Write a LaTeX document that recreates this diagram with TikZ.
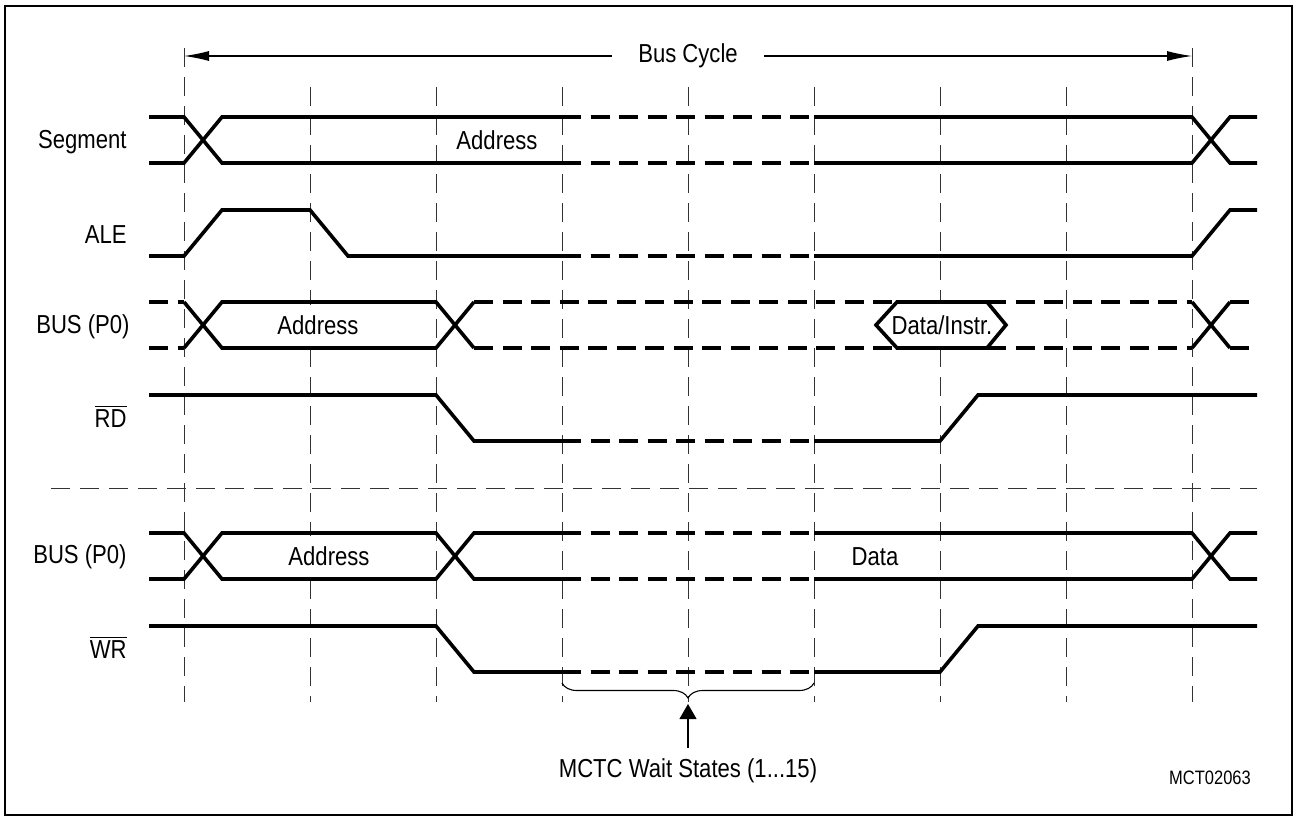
\documentclass[tikz,border=0pt]{standalone}
\usepackage{fontspec}
\setmainfont{Liberation Sans}[FakeStretch=0.85]
\usepackage{tikz}
\usetikzlibrary{arrows.meta,decorations.pathreplacing}

\begin{document}
\begin{tikzpicture}[
  x=0.5pt, y=-0.5pt,
  font=\fontsize{13}{15}\selectfont,
  sig/.style={line width=1.8pt, line join=miter},
  waitsig/.style={sig, dash pattern=on 9.5pt off 4.75pt},
  guide/.style={line width=0.5pt, black!80, dash pattern=on 9.5pt off 5pt},
  lbl/.style={anchor=base east, inner sep=0pt},
  txt/.style={anchor=base, inner sep=0pt},
  tagbox/.style={fill=white, inner xsep=1pt, inner ysep=0pt, text height=9pt, text depth=0pt, minimum height=20.5pt},
  thin/.style={line width=0.55pt}
]
\useasboundingbox (0,0) rectangle (1295,818);
\draw[line width=1pt] (5,6) rectangle (1292,815);

% time grid
\foreach \x in {310,436,...,1066} \draw[guide] (\x,87) -- (\x,702);
\foreach \x in {184,1192} \draw[guide] (\x,48) -- (\x,702);
\draw[guide] (51,488) -- (1257,488);

% bus cycle
\coordinate (cycstart) at (184,56);
\coordinate (cycend) at (1192,56);
\node[inner xsep=13pt] (cyc) at (688,56) {Bus Cycle};
\draw[thin, -{Latex[length=12.5pt,width=5pt]}] (cyc) -- (cycstart);
\draw[thin, -{Latex[length=12.5pt,width=5pt]}] (cyc) -- (cycend);

% signal names
\node[lbl] (seglbl) at (127,148.5) {Segment};
\node[lbl] (alelbl) at (127,243.5) {ALE};
\node[lbl] (buslbl) at (130,333) {BUS (P0)};
\node[lbl] (rdlbl) at (127,427) {$\overline{\mbox{RD}}$};
\node[lbl] (buslblb) at (127,563.5) {BUS (P0)};
\node[lbl] (wrlbl) at (127,658.5) {$\overline{\mbox{WR}}$};

% Segment
\draw[sig] (149,117) -- (184,117) -- (222,163) -- (562,163);
\draw[sig] (149,163) -- (184,163) -- (222,117) -- (562,117);
\draw[waitsig] (562,117) -- (814,117) (562,163) -- (814,163);
\draw[sig] (814,117) -- (1192,117) -- (1230,163) -- (1257,163);
\draw[sig] (814,163) -- (1192,163) -- (1230,117) -- (1257,117);
\node[txt] (segaddr) at (497,150) {Address};

% ALE
\draw[sig] (149,256) -- (184,256) -- (222,210) -- (310,210) -- (348,256) -- (562,256);
\draw[waitsig] (562,256) -- (814,256);
\draw[sig] (814,256) -- (1192,256) -- (1230,210) -- (1257,210);

% BUS (P0), read
\draw[waitsig] (149,302) -- (184,302) (149,348) -- (184,348);
\draw[sig] (184,302) -- (222,348) -- (436,348) -- (474,302);
\draw[sig] (184,348) -- (222,302) -- (436,302) -- (474,348);
\draw[waitsig] (474,302) -- (1192,302) (474,348) -- (1192,348);
\filldraw[sig, fill=white] (876,325) -- (897,302) -- (987,302) -- (1006,325) -- (987,348) -- (897,348) -- cycle;
\draw[sig] (1192,302) -- (1230,348) (1192,348) -- (1230,302);
\draw[waitsig] (1230,302) -- (1257,302) (1230,348) -- (1257,348);
\node[tagbox] (busaddr) at (318,325) {Address};
\node[txt] (datains) at (942,334) {Data/Instr.};

% RD
\draw[sig] (149,395) -- (436,395) -- (474,441) -- (562,441);
\draw[waitsig] (562,441) -- (814,441);
\draw[sig] (814,441) -- (940,441) -- (978,395) -- (1257,395);

% BUS (P0), write
\draw[sig] (149,533) -- (184,533) -- (222,579) -- (436,579) -- (474,533) -- (562,533);
\draw[sig] (149,579) -- (184,579) -- (222,533) -- (436,533) -- (474,579) -- (562,579);
\draw[waitsig] (562,533) -- (814,533) (562,579) -- (814,579);
\draw[sig] (814,533) -- (1192,533) -- (1230,579) -- (1257,579);
\draw[sig] (814,579) -- (1192,579) -- (1230,533) -- (1257,533);
\node[tagbox] (busaddrb) at (329,556) {Address};
\node[txt] (busdata) at (875,565) {Data};

% WR
\draw[sig] (149,626) -- (436,626) -- (474,672) -- (562,672);
\draw[waitsig] (562,672) -- (814,672);
\draw[sig] (814,672) -- (940,672) -- (978,626) -- (1257,626);

% wait states
\draw[thin, decorate, decoration={brace, mirror, amplitude=7.5pt}] (562,683) -- (814,683);
\coordinate (bracetip) at (688,704);
\node[anchor=base, inner xsep=0pt, inner ysep=5pt] (mctc) at (688,777) {MCTC Wait States (1...15)};
\draw[thin, -{Triangle[length=7.5pt,width=8.5pt]}] (mctc) -- (bracetip);

\node[txt, font=\fontsize{9.7}{11}\selectfont] (figid) at (1210,784) {MCT02063};
\end{tikzpicture}
\end{document}
